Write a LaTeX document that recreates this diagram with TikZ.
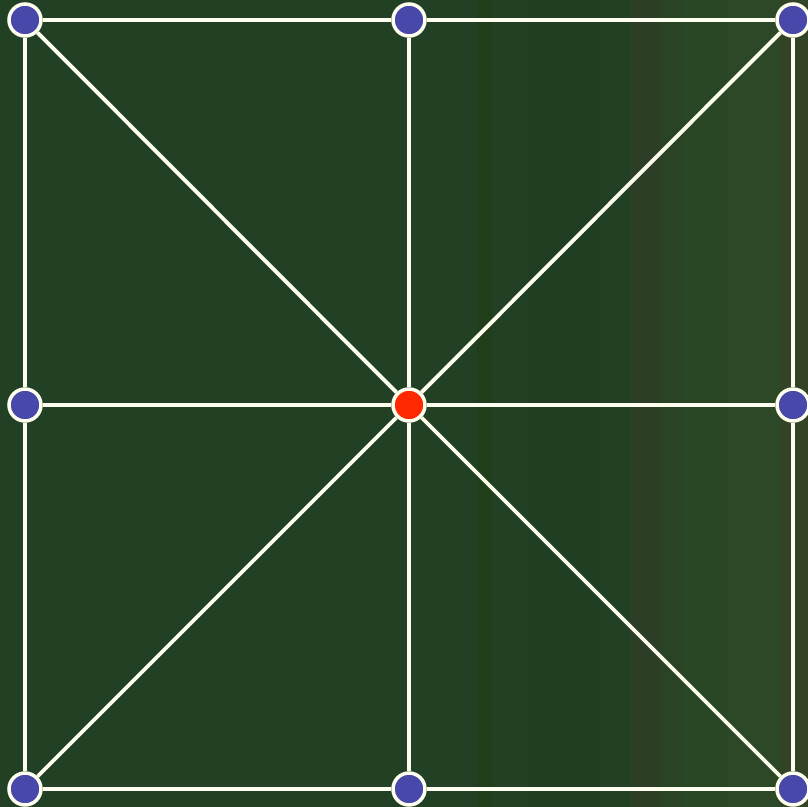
\documentclass[tikz,border=0pt]{standalone}
\usepackage{xcolor}
\definecolor{board}{RGB}{34,64,36}
\definecolor{stripeA}{RGB}{32,62,26}
\definecolor{stripeE}{RGB}{31,62,34}
\definecolor{stripeB}{RGB}{44,62,37}
\definecolor{stripeC}{RGB}{42,67,37}
\definecolor{stripeD}{RGB}{41,70,37}
\definecolor{stripeF}{RGB}{45,72,38}
\definecolor{stripeG}{RGB}{50,67,38}
\definecolor{linew}{RGB}{255,255,240}
\definecolor{peg}{RGB}{72,72,170}
\definecolor{hot}{RGB}{255,40,0}

\begin{document}
\begin{tikzpicture}[
      x=0.02cm, y=-0.02cm,
      pt/.style={circle, draw=linew, line width=2pt, minimum size=0.64cm, inner sep=0pt, fill=peg},
      ctr/.style={pt, fill=hot},
      edge/.style={linew, line width=2.2pt}
    ]
      % board and stripes
      \fill[board] (0,0) rectangle (808,807);
      \fill[stripeA] (477,0) rectangle (492,807);
      \fill[stripeE] (528,0) rectangle (600,807);
      \fill[stripeB] (630,0) rectangle (660,807);
      \fill[stripeC] (660,0) rectangle (683,807);
      \fill[stripeD] (683,0) rectangle (727,807);
      \fill[stripeF] (727,0) rectangle (780,807);
      \fill[stripeG] (780,0) rectangle (808,807);
      \useasboundingbox (0,0) rectangle (808,807);

      % points
      \node[pt] (tl) at (25,20) {};
      \node[pt] (tm) at (409,20) {};
      \node[pt] (tr) at (793,20) {};
      \node[pt] (ml) at (25,405) {};
      \node[ctr] (c) at (409,405) {};
      \node[pt] (mr) at (793,405) {};
      \node[pt] (bl) at (25,789) {};
      \node[pt] (bm) at (409,789) {};
      \node[pt] (br) at (793,789) {};

      % lines
      \draw[edge] (tl) -- (tm) -- (tr) -- (mr) -- (br) -- (bm) -- (bl) -- (ml) -- (tl);
      \draw[edge] (tm) -- (c) -- (bm);
      \draw[edge] (ml) -- (c) -- (mr);
      \draw[edge] (tl) -- (c) -- (br);
      \draw[edge] (tr) -- (c) -- (bl);
    \end{tikzpicture}
\end{document}
